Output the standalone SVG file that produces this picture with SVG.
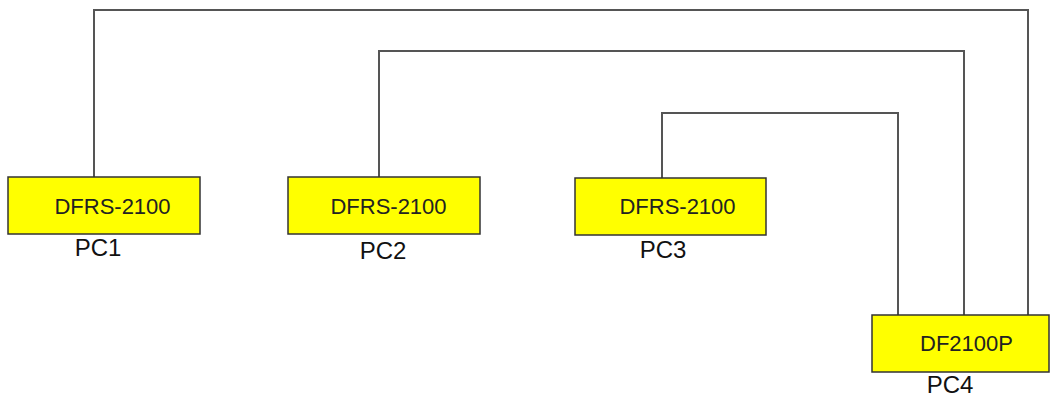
<svg xmlns="http://www.w3.org/2000/svg" width="1052" height="398" viewBox="0 0 1052 398">
<style>
.box{fill:#ffff00;stroke:#333;stroke-width:1.5}
.t{font-family:"Liberation Sans",Arial,sans-serif;font-size:22px;fill:#222;text-anchor:middle}
.l{font-family:"Liberation Sans",Arial,sans-serif;font-size:24px;fill:#111;text-anchor:middle}
.c{fill:none;stroke:#555;stroke-width:2}
</style>
<rect width="1052" height="398" fill="#fff"/>
<g id="connectors">
<polyline class="c" points="94,177 94,10 1028,10 1028,315"/>
<polyline class="c" points="379,177 379,51 964,51 964,315"/>
<polyline class="c" points="662,178 662,113 898,113 898,315"/>
</g>
<g id="pc1">
<rect class="box" x="8" y="177" width="192" height="57"/>
<text class="t" x="112.5" y="214">DFRS-2100</text>
<text class="l" x="98" y="256">PC1</text>
</g>
<g id="pc2">
<rect class="box" x="288" y="177" width="192" height="57"/>
<text class="t" x="388.5" y="214">DFRS-2100</text>
<text class="l" x="383" y="259">PC2</text>
</g>
<g id="pc3">
<rect class="box" x="575" y="178" width="191" height="57"/>
<text class="t" x="677.5" y="214">DFRS-2100</text>
<text class="l" x="663" y="258">PC3</text>
</g>
<g id="pc4">
<rect class="box" x="872" y="315" width="177" height="57"/>
<text class="t" x="966.5" y="351">DF2100P</text>
<text class="l" x="950" y="393">PC4</text>
</g>
</svg>
